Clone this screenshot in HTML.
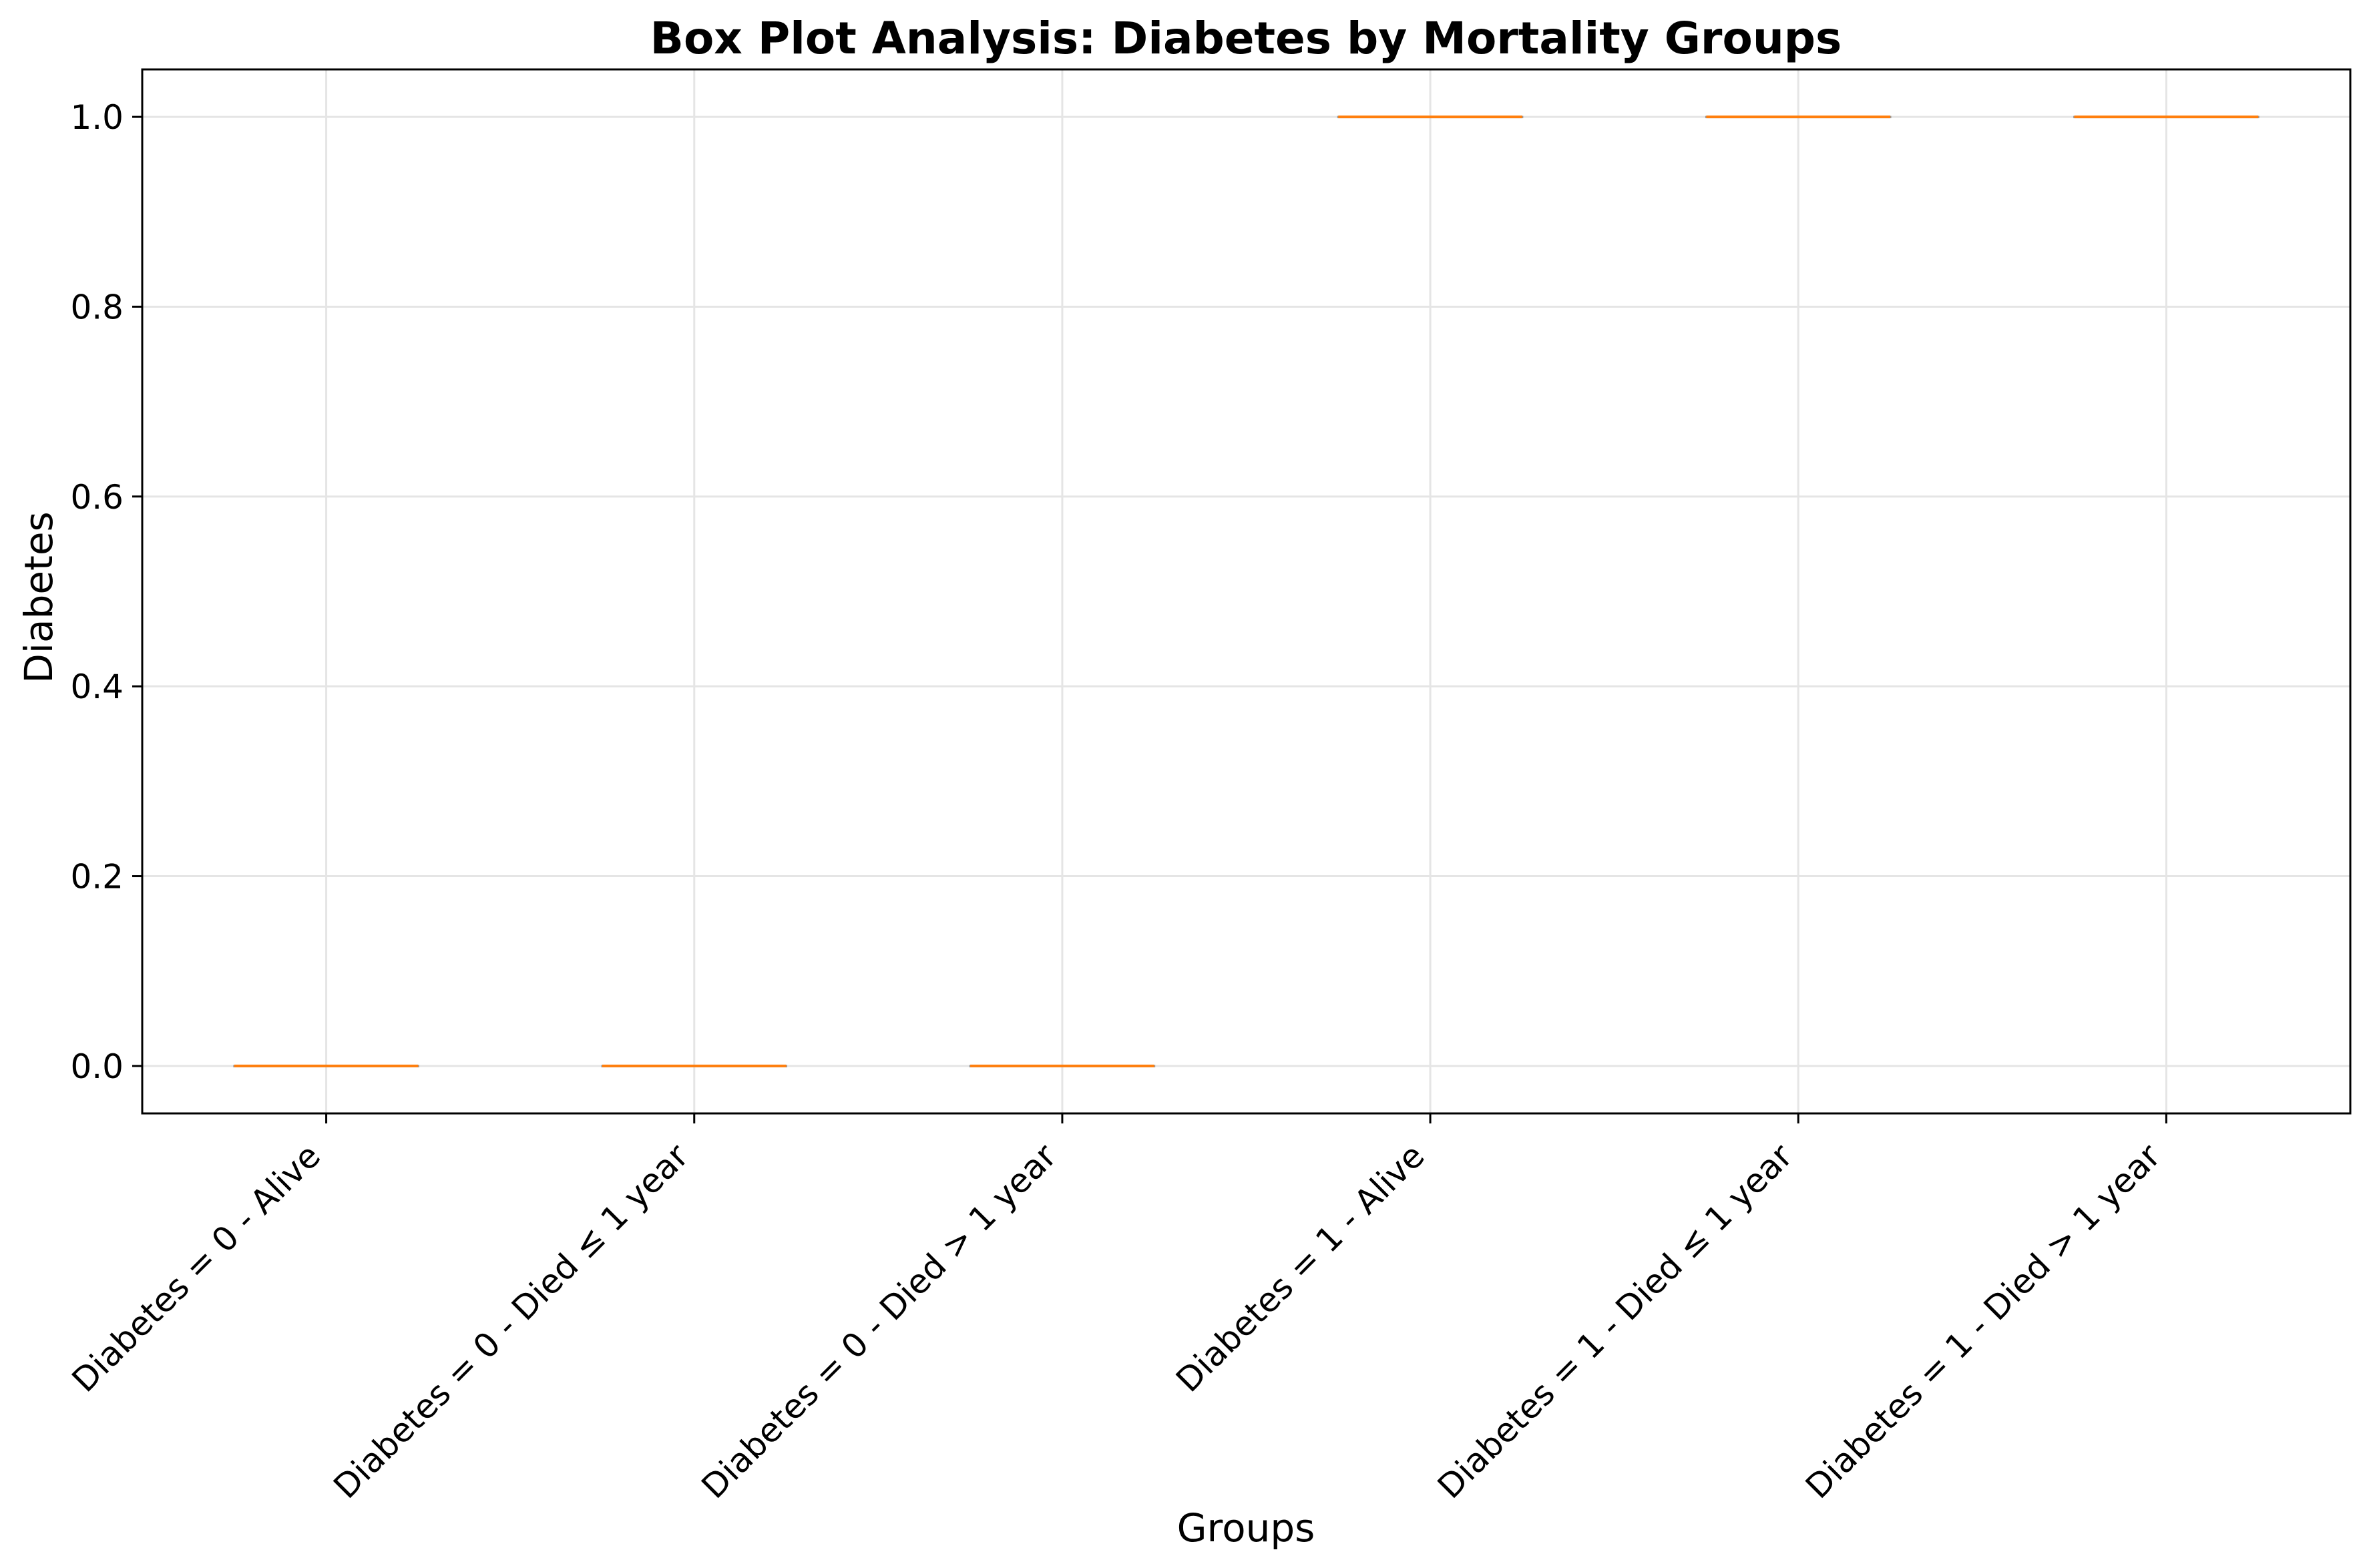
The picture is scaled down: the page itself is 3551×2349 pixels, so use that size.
<!DOCTYPE html>
<html><head><meta charset="utf-8"><style>
html,body{margin:0;padding:0;background:#fff;}
svg{display:block;font-family:"DejaVu Sans","Liberation Sans",sans-serif;}
</style></head><body>
<svg id="chart" width="3551" height="2349" viewBox="0 0 3551 2349" xmlns="http://www.w3.org/2000/svg">
<rect width="3551" height="2349" fill="#fff"/>
<g id="grid"></g>
<g id="boxes"></g>
<rect x="213" y="104" width="3307" height="1564" fill="none" stroke="#000" stroke-width="3"/>
<g id="yticks"></g>
<g id="xticks"></g>
<text x="1866" y="80" text-anchor="middle" font-size="66" font-weight="bold">Box Plot Analysis: Diabetes by Mortality Groups</text>
<text transform="translate(78,895) rotate(-90)" text-anchor="middle" font-size="58">Diabetes</text>
<text x="1866" y="2309" text-anchor="middle" font-size="58">Groups</text>
</svg>
<script>
const categories = ["Diabetes = 0 - Alive","Diabetes = 0 - Died ≤ 1 year","Diabetes = 0 - Died > 1 year","Diabetes = 1 - Alive","Diabetes = 1 - Died ≤ 1 year","Diabetes = 1 - Died > 1 year"];
const q1Values = [0,0,0,1,1,1];
const medianValues = [0,0,0,1,1,1];
const q3Values = [0,0,0,1,1,1];
const yTickValues = [0,0.2,0.4,0.6,0.8,1.0];
const yTickLabels = ["0.0","0.2","0.4","0.6","0.8","1.0"];

const NS = "http://www.w3.org/2000/svg";
const L = 213, R = 3520, T = 104, B = 1668;
const xMin = 0.5, xMax = 6.5, yMin = -0.05, yMax = 1.05;
function xs(i){ return L + (i - xMin) / (xMax - xMin) * (R - L); }
function ys(v){ return B - (v - yMin) / (yMax - yMin) * (B - T); }
function mk(tag, attrs, parent){
  const e = document.createElementNS(NS, tag);
  for (const k in attrs) e.setAttribute(k, attrs[k]);
  parent.appendChild(e);
  return e;
}
const grid = document.getElementById('grid');
const boxes = document.getElementById('boxes');
const yt = document.getElementById('yticks');
const xt = document.getElementById('xticks');

yTickValues.forEach((v, i) => {
  const y = ys(v);
  const g = mk('line', {x1: L, x2: R, y1: y, y2: y, stroke: '#e5e5e5', 'stroke-width': 3}, grid);
  
  
  const t = mk('line', {x1: L - 15, x2: L, y1: y, y2: y, stroke: '#000', 'stroke-width': 3}, yt);
  
  
  const lb = mk('text', {x: L - 28, y: y + 18, 'text-anchor': 'end', 'font-size': 50}, yt);
  lb.textContent = yTickLabels[i];
  
  
});

categories.forEach((c, i) => {
  const x = xs(i + 1);
  const g = mk('line', {x1: x, x2: x, y1: T, y2: B, stroke: '#e5e5e5', 'stroke-width': 3}, grid);
  
  
  const t = mk('line', {x1: x, x2: x, y1: B, y2: B + 15, stroke: '#000', 'stroke-width': 3}, xt);
  
  
  const lb = mk('text', {transform: 'translate(' + (x - 6) + ',' + 1735 + ') rotate(-45)', 'text-anchor': 'end', 'font-size': 50}, xt);
  lb.textContent = c;
  
  

  const hw = 0.25 * (R - L) / (xMax - xMin);
  const box = mk('rect', {x: x - hw, y: ys(q3Values[i]), width: 2 * hw, height: Math.max(0.5, ys(q1Values[i]) - ys(q3Values[i])), fill: 'none', stroke: '#999', 'stroke-width': 3}, boxes);
  
  
  const med = mk('line', {x1: x - hw, x2: x + hw, y1: ys(medianValues[i]), y2: ys(medianValues[i]), stroke: '#ff7f0e', 'stroke-width': 4}, boxes);
  
  
});
</script>
</body></html>
